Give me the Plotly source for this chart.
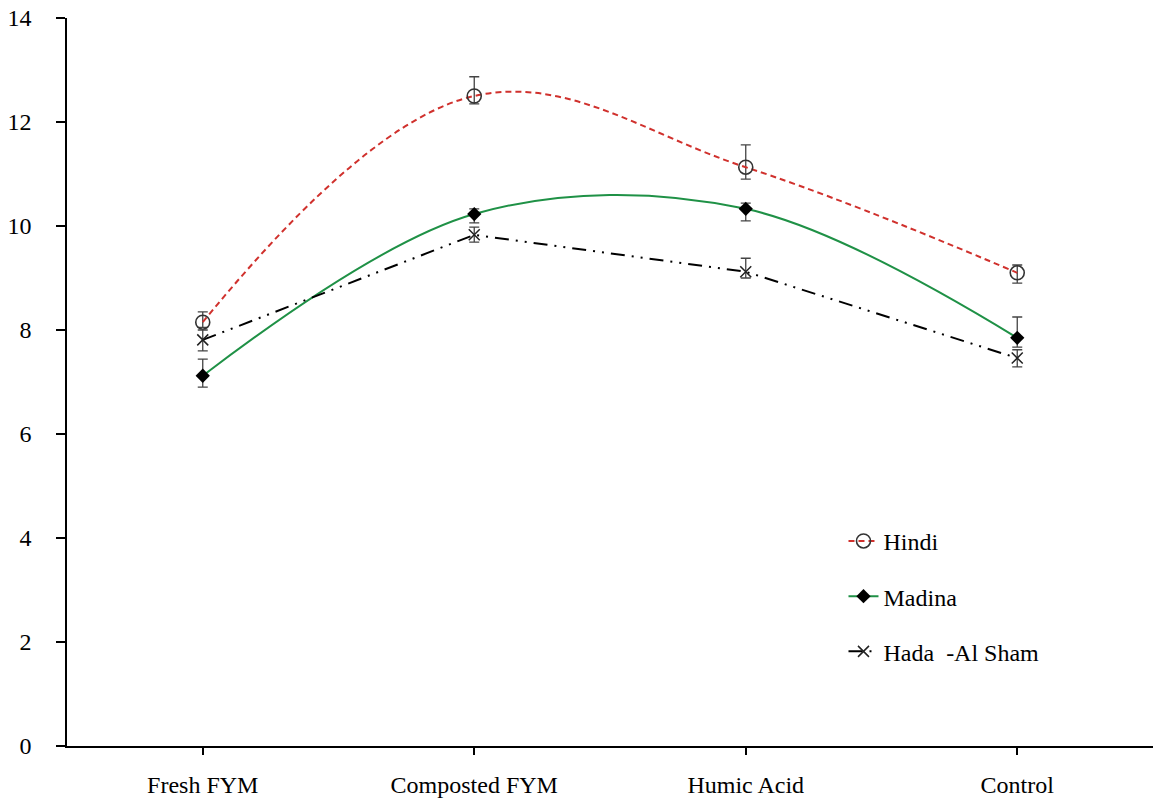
import plotly.graph_objects as go

categories = ["Fresh FYM", "Composted FYM", "Humic Acid", "Control"]

hindi = [8.15, 12.5, 11.13, 9.1]
hindi_plus = [0.2, 0.37, 0.43, 0.15]
hindi_minus = [0.1, 0.15, 0.23, 0.2]

madina = [7.12, 10.23, 10.33, 7.85]
madina_plus = [0.32, 0.1, 0.11, 0.4]
madina_minus = [0.22, 0.17, 0.23, 0.18]

hada = [7.81, 9.83, 9.12, 7.46]
hada_plus = [0.19, 0.15, 0.26, 0.16]
hada_minus = [0.21, 0.14, 0.12, 0.17]

y_ticks = [0, 2, 4, 6, 8, 10, 12, 14]

FONT = "Liberation Serif, Times New Roman, serif"
x = list(range(len(categories)))

def err(plus, minus):
    return dict(type="data", symmetric=False, array=plus, arrayminus=minus,
                color="#444444", thickness=1.3, width=5)

fig = go.Figure()
fig.add_trace(go.Scatter(
    x=x, y=hindi, name="Hindi", mode="lines+markers", legendgroup="a",
    line=dict(color="#d0312d", width=2, dash="6px,4px", shape="spline", smoothing=1.1),
    marker=dict(symbol="circle-open", size=14, color="#333333", line=dict(width=1.6, color="#333333")),
    error_y=err(hindi_plus, hindi_minus),
))
fig.add_trace(go.Scatter(
    x=x, y=madina, name="Madina", mode="lines+markers", legendgroup="b",
    line=dict(color="#1f9146", width=2, shape="spline", smoothing=1),
    marker=dict(symbol="diamond", size=11, color="black"),
    error_y=err(madina_plus, madina_minus),
))
fig.add_trace(go.Scatter(
    x=x, y=hada, name="Hada\u00a0\u00a0-Al Sham", mode="lines+markers", legendgroup="c",
    line=dict(color="black", width=2, dash="14px,7px,2px,7px,2px,7px"),
    marker=dict(symbol="x-thin", size=11, color="black", line=dict(width=1.5, color="#222222")),
    error_y=err(hada_plus, hada_minus),
))

fig.update_layout(
    width=1153, height=800,
    margin=dict(l=67, r=0, t=18, b=54),
    paper_bgcolor="white", plot_bgcolor="white",
    font=dict(family=FONT, size=24, color="black"),
    showlegend=True,
    legend=dict(x=0.715, y=0.312, xanchor="left", yanchor="top",
                bgcolor="rgba(0,0,0,0)", tracegroupgap=21,
                font=dict(family=FONT, size=24, color="black")),
    xaxis=dict(
        range=[-0.5, 3.5], tickmode="array", tickvals=x, ticktext=categories,
        showline=True, linecolor="black", linewidth=1.5, showgrid=False, zeroline=False,
        ticks="outside", ticklen=7, tickwidth=1.5, tickcolor="black",
        ticklabelstandoff=9,
    ),
    yaxis=dict(
        range=[0, 14], tickmode="array", tickvals=y_ticks,
        showline=True, linecolor="black", linewidth=1.5, showgrid=False, zeroline=False,
        ticks="outside", ticklen=9, tickwidth=1.5, tickcolor="black",
        ticklabelstandoff=20,
    ),
)

fig.write_html("out.html")
